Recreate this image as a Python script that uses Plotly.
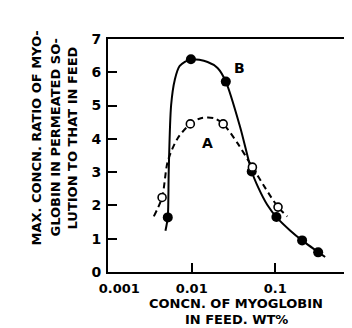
import plotly.graph_objects as go

# Measured points, curve B (filled circles)
b_x = [0.00518, 0.0098, 0.0256, 0.0522, 0.103, 0.209, 0.325]
b_y = [1.64, 6.39, 5.72, 3.02, 1.65, 0.95, 0.59]
# Smooth curve B drawn through the points
b_curve_x = [0.00486, 0.00518, 0.00532, 0.00568, 0.00628, 0.0072, 0.0098, 0.0155, 0.0204,
             0.0256, 0.0380, 0.0522, 0.0630, 0.0800, 0.103, 0.150, 0.209, 0.394]
b_curve_y = [1.24, 1.65, 3.03, 5.01, 5.77, 6.19, 6.39, 6.31, 6.13,
             5.72, 4.35, 3.02, 2.52, 2.02, 1.65, 1.25, 0.95, 0.45]

# Measured points, curve A (open circles)
a_x = [0.00443, 0.00964, 0.0238, 0.0532, 0.1077]
a_y = [2.24, 4.45, 4.45, 3.15, 1.95]
a_curve_x = [0.00353, 0.00443, 0.00518, 0.00681, 0.00964, 0.0129, 0.0186, 0.0238,
             0.0353, 0.0532, 0.076, 0.1077, 0.139]
a_curve_y = [1.67, 2.24, 3.33, 4.02, 4.45, 4.62, 4.62, 4.45,
             3.87, 3.15, 2.52, 1.95, 1.67]

x_tickvals = [0.001, 0.01, 0.1, 1]
x_ticktext = ["<b>&nbsp;&nbsp;&nbsp;&nbsp;&nbsp;0.001</b>", "<b>0.01</b>", "<b>0.1</b>", "<b>1</b>"]
y_tickvals = [0, 1, 2, 3, 4, 5, 6, 7]
y_ticktext = ["<b>0</b>", "<b>1</b>", "<b>2</b>", "<b>3</b>", "<b>4</b>", "<b>5</b>", "<b>6</b>", "<b>7</b>"]

FONT = "DejaVu Sans"

plot_l, plot_w, plot_t, plot_h = 100, 251, 31, 233


def px_to_paper(px, py):
    return (px - plot_l) / plot_w, 1 - (py - plot_t) / plot_h


fig = go.Figure()
fig.add_trace(go.Scatter(x=b_curve_x, y=b_curve_y, mode="lines",
                         line=dict(color="black", width=2, shape="spline", smoothing=0.8),
                         showlegend=False, hoverinfo="skip"))
fig.add_trace(go.Scatter(x=a_curve_x, y=a_curve_y, mode="lines",
                         line=dict(color="black", width=2, dash="6px,4px", shape="spline", smoothing=0.8),
                         showlegend=False, hoverinfo="skip"))
fig.add_trace(go.Scatter(x=b_x, y=b_y, mode="markers",
                         marker=dict(color="black", size=10), showlegend=False))
fig.add_trace(go.Scatter(x=a_x, y=a_y, mode="markers",
                         marker=dict(color="white", size=8, line=dict(color="black", width=1.6)),
                         showlegend=False))

fig.add_annotation(x=-1.432, y=6.13, xref="x", yref="y", text="<b>B</b>", showarrow=False,
                   font=dict(family=FONT, size=14, color="black"))
fig.add_annotation(x=-1.81, y=3.87, xref="x", yref="y", text="<b>A</b>", showarrow=False,
                   font=dict(family=FONT, size=14, color="black"))

ytitle_lines = ["MAX. CONCN. RATIO OF MYO-", "GLOBIN IN PERMEATED SO-", "LUTION TO THAT IN FEED"]
for line, px in zip(ytitle_lines, [18, 37, 54]):
    ax, ay = px_to_paper(px, 130)
    fig.add_annotation(x=ax, y=ay, xref="paper", yref="paper", text="<b>" + line + "</b>",
                       textangle=-90, showarrow=False,
                       font=dict(family=FONT, size=13, color="black"))

for line, py in zip(["CONCN. OF MYOGLOBIN", "IN FEED. WT%"], [305, 321]):
    ax, ay = px_to_paper(228, py)
    fig.add_annotation(x=ax, y=ay, xref="paper", yref="paper",
                       text="<b>" + line + "</b>", showarrow=False,
                       font=dict(family=FONT, size=13, color="black"))

# short right-hand border segment at top right
fig.add_shape(type="line", xref="paper", yref="paper", x0=1, x1=1, y0=1, y1=1 - 40 / plot_h,
              line=dict(color="black", width=1.5))

fig.update_xaxes(type="log", range=[-3, 0], tickvals=x_tickvals, ticktext=x_ticktext,
                 ticks="inside", ticklen=9, tickwidth=1.5, tickcolor="black",
                 ticklabelstandoff=3,
                 showline=True, linecolor="black", linewidth=2, mirror=True,
                 showgrid=False, zeroline=False,
                 tickfont=dict(family=FONT, size=13, color="black"))
fig.update_yaxes(range=[0, 7], tickvals=y_tickvals, ticktext=y_ticktext,
                 ticks="inside", ticklen=9, tickwidth=1.5, tickcolor="black",
                 ticklabelstandoff=2,
                 showline=True, linecolor="black", linewidth=2, mirror=False,
                 showgrid=False, zeroline=False,
                 tickfont=dict(family=FONT, size=14, color="black"))

fig.update_layout(width=352, height=328, margin=dict(l=100, r=1, t=31, b=64),
                  plot_bgcolor="white", paper_bgcolor="white",
                  font=dict(family=FONT, color="black"))

fig.write_html("out.html")
